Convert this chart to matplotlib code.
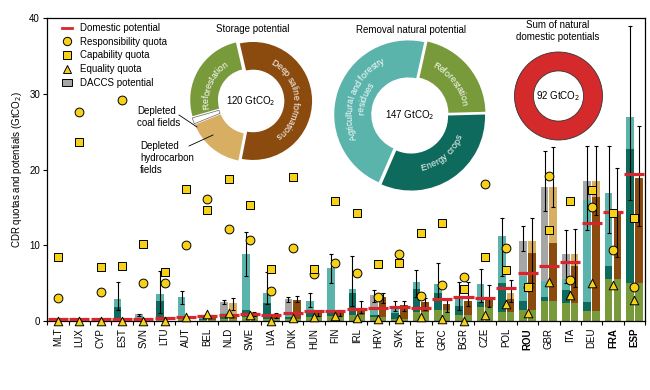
import numpy as np
import matplotlib
matplotlib.use("Agg")
import matplotlib.pyplot as plt
from matplotlib.lines import Line2D
from matplotlib.patches import Patch
from matplotlib.font_manager import FontProperties, findfont, get_font

plt.rcParams['font.family'] = ['Liberation Sans', 'DejaVu Sans']

# ---------------- data ----------------
countries = ["MLT", "LUX", "CYP", "EST", "SVN", "LTU", "AUT", "BEL", "NLD", "SWE",
             "LVA", "DNK", "HUN", "FIN", "IRL", "HRV", "SVK", "PRT", "GRC", "BGR",
             "CZE", "POL", "ROU", "GBR", "ITA", "DEU", "FRA", "ESP"]
bold_countries = ["ROU", "FRA", "ESP"]

# removal (left bar) components
reforestation = [0, 0, 0, 0.2, 0.1, 0.2, 0.3, 0.1, 0.3, 0.5,
                 0.3, 0.3, 0.5, 0.7, 0.8, 0.5, 0.3, 1.2, 1.5, 0.8,
                 1.8, 1.2, 1.5, 2.6, 2.4, 1.3, 5.5, 5.0]
energy_crops = [0, 0, 0, 1.7, 0.2, 2.4, 0.3, 0.1, 0.2, 0.9,
                2.1, 0.2, 0.5, 0.3, 2.9, 0.3, 0.7, 3.0, 2.2, 1.2,
                0.75, 3.8, 1.1, 0.6, 1.7, 1.25, 1.7, 17.7]
agri_residues = [0, 0, 0, 1.0, 0.3, 1.0, 2.6, 0.2, 0.5, 7.4,
                 1.25, 0.3, 1.7, 6.0, 0.5, 1.0, 1.0, 1.0, 1.15, 1.0,
                 2.3, 6.2, 3.3, 2.1, 1.5, 13.45, 9.75, 4.2]
daccs = [0, 0, 0, 0, 0.3, 0, 0, 0.2, 1.55, 0,
         0, 2.1, 0, 0, 0, 1.6, 0, 0, 0, 0,
         0, 0, 4.7, 12.4, 3.3, 2.5, 0, 0]
# storage (right bar) components (on top of reforestation)
deep_saline = [0, 0, 0, 0, 0.2, 0, 0, 0.3, 0.4, 0.3,
               0.5, 2.5, 0.6, 0.8, 0.7, 2.7, 1.8, 1.3, 0.8, 1.9,
               1.4, 1.7, 7.5, 7.75, 4.8, 15.1, 8.7, 13.85]
depleted_hydrocarbon = [0, 0, 0, 0, 0, 0, 0, 0.3, 1.7, 0,
                        0, 0, 0, 0, 0, 0, 0, 0, 0, 0,
                        0, 0.8, 1.6, 7.35, 1.7, 2.1, 0.3, 0]

domestic = [0.2, 0.2, 0.2, 0.25, 0.3, 0.4, 0.5, 0.6, 0.75, 0.9,
            0.85, 1.0, 1.3, 1.3, 1.55, 1.75, 1.9, 1.75, 2.85, 3.2,
            3.1, 4.3, 6.3, 7.25, 7.8, 13.0, 14.45, 19.4]
responsibility = [3.1, 27.6, 3.8, 29.2, 5.0, 5.0, 10.0, 16.1, 12.2, 10.7,
                  4.0, 9.7, 6.2, 7.7, 6.4, 3.2, 8.85, 3.35, 4.75, 5.8,
                  18.1, 9.7, 4.45, 19.2, 5.4, 15.1, 9.4, 4.5]
capability = [8.5, 23.6, 7.1, 7.3, 10.2, 6.5, 17.4, 14.7, 18.7, 15.3,
              6.8, 19.0, 6.8, 15.9, 14.2, 7.5, 7.7, 11.6, 13.0, 4.2,
              8.4, 6.7, 4.45, 12.0, 15.85, 17.3, 14.2, 13.55]
equality = [0, 0, 0, 0, 0, 0, 0.5, 0.9, 1.1, 0.8,
            0, 0.4, 0.5, 0.6, 0.4, 0.2, 0.2, 0.5, 0.2, 0,
            0.8, 2.2, 1.0, 5.2, 3.4, 5.0, 4.75, 2.8]

err_left_lo = [np.nan, np.nan, np.nan, 1.5, 0.6, 1.0, 2.2, 0.5, 2.3, 6.0,
               2.2, 2.5, 1.8, 5.0, 2.0, 2.5, 1.3, 3.2, 3.0, 1.5,
               2.5, 6.0, 9.2, 14.5, 5.0, 12.0, 11.6, 16.0]
err_left_hi = [np.nan, np.nan, np.nan, 5.1, 0.9, 6.6, 3.9, 0.8, 2.8, 11.7,
               6.5, 3.2, 3.7, 8.9, 8.6, 4.1, 2.7, 6.7, 7.6, 5.1,
               6.8, 13.6, 12.5, 22.4, 12.0, 23.1, 23.1, 38.9]
err_right_lo = [np.nan, np.nan, np.nan, np.nan, np.nan, np.nan, np.nan, 0.5, 1.4, 0.6,
                0.4, 2.5, 0.6, 0.7, 1.0, 2.4, 1.3, 1.5, 1.2, 2.0,
                1.8, 2.5, 5.0, 15.0, 4.5, 14.0, 8.5, 12.5]
err_right_hi = [np.nan, np.nan, np.nan, np.nan, np.nan, np.nan, np.nan, 0.8, 3.0, 1.2,
                1.0, 3.3, 1.3, 1.5, 2.7, 3.7, 2.7, 3.0, 2.8, 5.1,
                4.75, 5.4, 13.6, 23.0, 12.15, 23.1, 20.2, 25.7]

storage_labels = ["Deep saline formations", "Depleted hydrocarbon fields",
                  "Depleted coal fields", "Reforestation"]
storage_values = [68, 19, 2, 31]
removal_labels = ["Reforestation", "Energy crops", "Agricultural and forestry residues"]
removal_values = [31, 47, 69]
domestic_sum = [92]

# ---------------- style ----------------
C_GREEN = '#789a3b'
C_DTEAL = '#0d6a5c'
C_TEAL = '#5bb4ac'
C_GREY = '#a6a6a6'
C_BROWN = '#8b4b0e'
C_TAN = '#d8ae62'
C_RED = '#d7262d'
C_YEL = '#f7d117'

W, H = 650, 390
fig = plt.figure(figsize=(6.5, 3.9), dpi=100)


def fx(px):
    return px / W


def fy(py):
    return 1 - py / H


ax = fig.add_axes([fx(47), fy(321), (645 - 47) / W, (321 - 18) / H])
n = len(countries)
x = np.arange(n)
bw = 0.36
off = 0.205

ref = np.array(reforestation)
en = np.array(energy_crops)
ag = np.array(agri_residues)
dc = np.array(daccs)
sal = np.array(deep_saline)
hyd = np.array(depleted_hydrocarbon)

# left bar: removal
b = np.zeros(n)
for vals, col in [(ref, C_GREEN), (en, C_DTEAL), (ag, C_TEAL), (dc, C_GREY)]:
    ax.bar(x - off, vals, bw, bottom=b, color=col, linewidth=0, zorder=2)
    b = b + vals
# right bar: storage
b = np.zeros(n)
for vals, col in [(np.where(sal + hyd > 0, ref, 0), C_GREEN), (sal, C_BROWN), (hyd, C_TAN)]:
    ax.bar(x + off, vals, bw, bottom=b, color=col, linewidth=0, zorder=2)
    b = b + vals

# error bars
for xs, lo, hi in [(x - off, err_left_lo, err_left_hi), (x + off, err_right_lo, err_right_hi)]:
    lo = np.array(lo)
    hi = np.array(hi)
    ax.errorbar(xs, (lo + hi) / 2, yerr=(hi - lo) / 2, fmt='none', ecolor='black',
                elinewidth=0.8, capsize=1.5, capthick=0.8, zorder=3)

# domestic potential
ax.hlines(domestic, x - 0.47, x + 0.47, color=C_RED, lw=2.3, zorder=4)

# quotas
ax.scatter(x, responsibility, marker='o', s=40, facecolor=C_YEL, edgecolor='black', lw=0.7, zorder=5)
ax.scatter(x, capability, marker='s', s=34, facecolor=C_YEL, edgecolor='black', lw=0.7, zorder=5)
ax.scatter(x, equality, marker='^', s=38, facecolor=C_YEL, edgecolor='black', lw=0.7, zorder=6, clip_on=False)

ax.set_xlim(-0.51, 27.43)
ax.set_ylim(0, 40)
ax.set_yticks([0, 10, 20, 30, 40])
ax.set_xticks(x)
ax.set_xticklabels(countries, rotation=90, fontsize=7)
for lbl in ax.get_xticklabels():
    if lbl.get_text() in bold_countries:
        lbl.set_fontweight('bold')
ax.set_xticks(np.arange(-0.5, n, 1), minor=True)
ax.tick_params(axis='x', which='major', length=0, pad=5)
ax.tick_params(axis='x', which='minor', length=3, width=0.8, direction='out')
ax.tick_params(axis='y', length=3, width=0.8, labelsize=7, pad=2)
for s in ax.spines.values():
    s.set_linewidth(0.9)
ax.set_ylabel('CDR quotas and potentials (GtCO$_2$)', fontsize=7, labelpad=4)

handles = [Line2D([0], [0], color=C_RED, lw=2),
           Line2D([0], [0], marker='o', ls='none', ms=6, mfc=C_YEL, mec='black', mew=0.7),
           Line2D([0], [0], marker='s', ls='none', ms=6, mfc=C_YEL, mec='black', mew=0.7),
           Line2D([0], [0], marker='^', ls='none', ms=6, mfc=C_YEL, mec='black', mew=0.7),
           Patch(facecolor=C_GREY, edgecolor='black', linewidth=0.7)]
labels = ['Domestic potential', 'Responsibility quota', 'Capability quota',
          'Equality quota', 'DACCS potential']
ax.legend(handles, labels, loc='upper left', bbox_to_anchor=(fx(62), fy(23)),
          bbox_transform=fig.transFigure, frameon=False, fontsize=7,
          handlelength=1.0, handletextpad=0.9, labelspacing=0.38, borderpad=0,
          borderaxespad=0)

# ---------------- donuts ----------------
font_obj = get_font(findfont(FontProperties(family='Liberation Sans')))


def advances(text, fs):
    font_obj.set_size(fs, 72)
    return np.array([font_obj.load_char(ord(c)).linearHoriAdvance / 65536 for c in text])


def curved_text(dax, text, radius, theta_c, r_px, fs, clockwise=True, color='white'):
    adv = advances(text, fs) * 100 / 72 / r_px
    pos = np.cumsum(adv) - adv / 2 - adv.sum() / 2
    for c, p in zip(text, pos):
        d = p / radius
        if clockwise:
            a = np.radians(theta_c) - d
            rot = np.degrees(a) - 90
        else:
            a = np.radians(theta_c) + d
            rot = np.degrees(a) + 90
        dax.text(radius * np.cos(a), radius * np.sin(a), c, rotation=rot, ha='center',
                 va='center_baseline', rotation_mode='anchor', fontsize=fs, color=color)


def donut_axes(cx, cy, r):
    dax = fig.add_axes([fx(cx - 1.1 * r), fy(cy + 1.1 * r), 2.2 * r / W, 2.2 * r / H])
    return dax


def finish(dax):
    dax.set_xlim(-1.1, 1.1)
    dax.set_ylim(-1.1, 1.1)
    dax.set_aspect('equal')
    dax.axis('off')


# storage potential
r1 = 59
d1 = donut_axes(251, 101, r1)
wedges, _ = d1.pie(storage_values, startangle=103, counterclock=False,
                   colors=[C_BROWN, C_TAN, 'white', C_GREEN],
                   explode=[0.035] * 4,
                   wedgeprops=dict(width=0.47, linewidth=0))
wedges[2].set_edgecolor('#666666')
wedges[2].set_linewidth(0.5)
finish(d1)
d1.text(0, 0, '120 GtCO$_2$', ha='center', va='center', fontsize=7)
curved_text(d1, 'Reforestation', 0.77, 157, r1, 6.5, clockwise=True)
curved_text(d1, 'Deep saline formations', 0.77, 4, r1, 6.5, clockwise=True)
fig.text(fx(253), fy(29), 'Storage potential', ha='center', va='center', fontsize=7)

# removal natural potential
r2 = 74
d2 = donut_axes(410, 115, r2)
d2.pie(removal_values, startangle=77.5, counterclock=False,
       colors=[C_GREEN, C_DTEAL, C_TEAL], explode=[0.025] * 3,
       wedgeprops=dict(width=0.5, linewidth=0))
finish(d2)
d2.text(0, 0, '147 GtCO$_2$', ha='center', va='center', fontsize=7)
curved_text(d2, 'Reforestation', 0.76, 38, r2, 6.5, clockwise=True)
curved_text(d2, 'Agricultural and forestry', 0.83, 160, r2, 6.5, clockwise=True)
curved_text(d2, 'residues', 0.67, 160, r2, 6.5, clockwise=True)
curved_text(d2, 'Energy crops', 0.72, -50, r2, 6.5, clockwise=False)
fig.text(fx(411), fy(30), 'Removal natural potential', ha='center', va='center', fontsize=7)

# sum of natural domestic potentials
r3 = 44
d3 = donut_axes(558.5, 96, r3)
d3.pie(domestic_sum, startangle=90, counterclock=False, colors=['#d42a2c'],
       wedgeprops=dict(width=0.43, edgecolor='#333333', linewidth=0.6))
finish(d3)
d3.text(0, 0, '92 GtCO$_2$', ha='center', va='center', fontsize=7)
fig.text(fx(558), fy(31), 'Sum of natural\ndomestic potentials', ha='center', va='center',
         fontsize=7, linespacing=1.2)

# annotations
fig.text(fx(137), fy(106), 'Depleted\ncoal fields', ha='left', va='top', fontsize=7,
         linespacing=1.25)
fig.text(fx(140), fy(141), 'Depleted\nhydrocarbon\nfields', ha='left', va='top', fontsize=7,
         linespacing=1.25)
fig.add_artist(Line2D([fx(179), fx(197)], [fy(115), fy(127)], color='black', lw=0.6,
                      transform=fig.transFigure))
fig.add_artist(Line2D([fx(189), fx(213)], [fy(146), fy(135)], color='black', lw=0.6,
                      transform=fig.transFigure))

fig.savefig('out.png', dpi=100)
